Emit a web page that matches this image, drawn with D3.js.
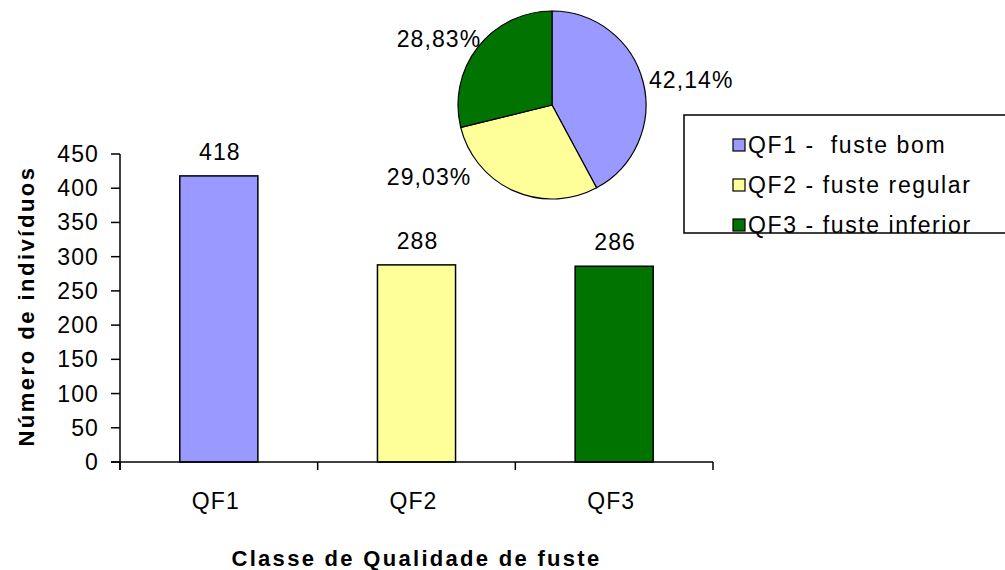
<!DOCTYPE html>
<html>
<head>
<meta charset="utf-8">
<script src="https://cdn.jsdelivr.net/npm/d3@7"></script>
<style>
  html, body { margin: 0; padding: 0; background: #fff; }
  svg { display: block; }
  text { font-family: "Liberation Sans", Arial, sans-serif; fill: #000; }
</style>
</head>
<body>
<svg id="chart" width="1005" height="570"></svg>
<script>
// ---- data ----
const categories = ["QF1", "QF2", "QF3"];
const counts = [418, 288, 286];
const percentLabels = ["42,14%", "29,03%", "28,83%"];
const legendLabels = ["QF1 -  fuste bom", "QF2 - fuste regular", "QF3 - fuste inferior"];
const colors = ["#9999ff", "#ffff99", "#007300"];
const yTicks = [0, 50, 100, 150, 200, 250, 300, 350, 400, 450];

// ---- layout ----
const svg = d3.select("#chart");
const plot = { left: 120, right: 713, top: 154, bottom: 462 };
const fs = 23;
const ls = "1.1px";

const x = d3.scaleBand().domain(categories).range([plot.left, plot.right]).padding(0);
const y = d3.scaleLinear().domain([0, 450]).range([plot.bottom, plot.top]);
const barFrac = 0.395;

// bars
svg.append("g").selectAll("rect")
  .data(categories)
  .join("rect")
  .attr("x", (d) => x(d) + x.bandwidth() * (1 - barFrac) / 2)
  .attr("y", (d, i) => y(counts[i]))
  .attr("width", x.bandwidth() * barFrac)
  .attr("height", (d, i) => y(0) - y(counts[i]))
  .attr("fill", (d, i) => colors[i])
  .attr("stroke", "#000")
  .attr("stroke-width", 1.5);

// value labels
svg.append("g").selectAll("text")
  .data(categories)
  .join("text")
  .attr("x", (d) => x(d) + x.bandwidth() / 2 + 1)
  .attr("y", (d, i) => y(counts[i]) - 16)
  .attr("text-anchor", "middle")
  .style("font-size", fs + "px")
  .style("letter-spacing", ls)
  .text((d, i) => counts[i]);

// y axis
const yAxis = svg.append("g");
yAxis.append("line")
  .attr("x1", plot.left).attr("x2", plot.left)
  .attr("y1", plot.top).attr("y2", plot.bottom + 8)
  .attr("stroke", "#000").attr("stroke-width", 1.5);
yAxis.selectAll("line.tick")
  .data(yTicks)
  .join("line")
  .attr("class", "tick")
  .attr("x1", plot.left - 9).attr("x2", plot.left)
  .attr("y1", (d) => y(d)).attr("y2", (d) => y(d))
  .attr("stroke", "#000").attr("stroke-width", 1.5);
yAxis.selectAll("text")
  .data(yTicks)
  .join("text")
  .attr("x", 99)
  .attr("y", (d) => y(d) + 8)
  .attr("text-anchor", "end")
  .style("font-size", fs + "px")
  .style("letter-spacing", ls)
  .text((d) => d);

// x axis
const xAxis = svg.append("g");
xAxis.append("line")
  .attr("x1", plot.left - 9).attr("x2", plot.right)
  .attr("y1", plot.bottom).attr("y2", plot.bottom)
  .attr("stroke", "#000").attr("stroke-width", 1.5);
const xBounds = categories.map((d) => x(d)).concat([plot.right]);
xAxis.selectAll("line.tick")
  .data(xBounds)
  .join("line")
  .attr("class", "tick")
  .attr("x1", (d) => d).attr("x2", (d) => d)
  .attr("y1", plot.bottom).attr("y2", plot.bottom + 8)
  .attr("stroke", "#000").attr("stroke-width", 1.5);
xAxis.selectAll("text")
  .data(categories)
  .join("text")
  .attr("x", (d) => x(d) + x.bandwidth() / 2 - 3)
  .attr("y", 509)
  .attr("text-anchor", "middle")
  .style("font-size", fs + "px")
  .style("letter-spacing", ls)
  .text((d) => d);

// axis titles
svg.append("text")
  .attr("x", (plot.left + plot.right) / 2)
  .attr("y", 566)
  .attr("text-anchor", "middle")
  .style("font-size", "22px")
  .style("font-weight", "bold")
  .style("letter-spacing", "2.3px")
  .text("Classe de Qualidade de fuste");

svg.append("text")
  .attr("transform", "translate(34,306) rotate(-90)")
  .attr("text-anchor", "middle")
  .style("font-size", "22px")
  .style("font-weight", "bold")
  .style("letter-spacing", "2.5px")
  .text("Número de indivíduos");

// pie
const pc = { x: 552, y: 105, r: 94 };
const pie = d3.pie().sort(null).value((d) => d)(counts);
const arc = d3.arc().innerRadius(0).outerRadius(pc.r);
const pg = svg.append("g").attr("transform", `translate(${pc.x},${pc.y})`);
pg.selectAll("path")
  .data(pie)
  .join("path")
  .attr("d", arc)
  .attr("fill", (d, i) => colors[i])
  .attr("stroke", "#000")
  .attr("stroke-width", 1.2);

const labelArc = d3.arc().innerRadius(pc.r + 6).outerRadius(pc.r + 6);
const labelAdjust = [{ dx: 0, dy: 7 }, { dx: -40, dy: -11 }, { dx: 8, dy: 4 }];
pg.selectAll("text")
  .data(pie)
  .join("text")
  .each(function (d, i) {
    const [cx, cy] = labelArc.centroid(d);
    const mid = (d.startAngle + d.endAngle) / 2;
    const left = Math.sin(mid) < 0;
    d3.select(this)
      .attr("x", cx + labelAdjust[i].dx)
      .attr("y", cy + labelAdjust[i].dy)
      .attr("text-anchor", left ? "end" : "start");
  })
  .style("font-size", fs + "px")
  .style("letter-spacing", ls)
  .text((d, i) => percentLabels[i]);

// legend
const lg = svg.append("g");
lg.append("rect")
  .attr("x", 684).attr("y", 115)
  .attr("width", 340).attr("height", 118)
  .attr("fill", "#fff").attr("stroke", "#000").attr("stroke-width", 1.5);
const rows = lg.selectAll("g.row")
  .data(legendLabels)
  .join("g")
  .attr("class", "row")
  .attr("transform", (d, i) => `translate(733,${145 + i * 40})`);
rows.append("rect")
  .attr("x", 0).attr("y", -6)
  .attr("width", 12).attr("height", 12)
  .attr("fill", (d, i) => colors[i])
  .attr("stroke", "#000").attr("stroke-width", 1.2);
rows.append("text")
  .attr("x", 15)
  .attr("y", 8)
  .attr("xml:space", "preserve")
  .style("white-space", "pre")
  .style("font-size", fs + "px")
  .style("letter-spacing", "1.6px")
  .text((d) => d);
</script>
</body>
</html>
